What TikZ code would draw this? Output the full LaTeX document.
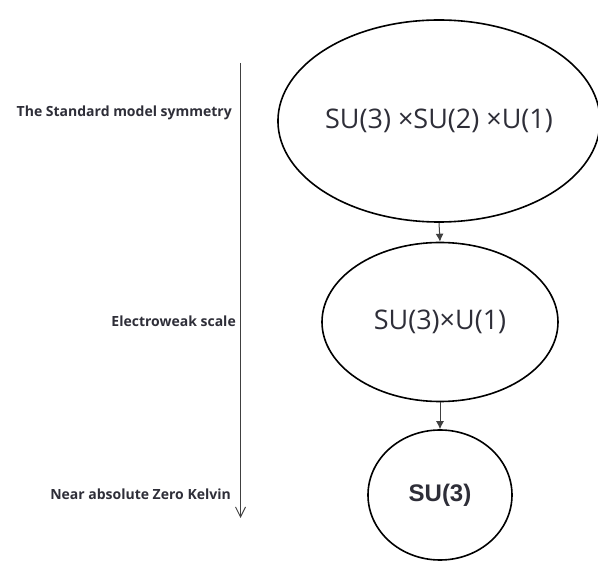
\documentclass[tikz,border=0pt]{standalone}
\usepackage{fontspec}
\setmainfont{Open Sans}
\newfontfamily\arialfont{Liberation Sans}
\usetikzlibrary{arrows.meta,shapes.geometric}
\definecolor{textgray}{HTML}{2E2E38}
\definecolor{arrowgray}{HTML}{404040}

\begin{document}
\begin{tikzpicture}[x=1pt, y=-1pt,
  group/.style={ellipse, draw=black, line width=1.6pt, inner sep=0pt, text=textgray},
  scalelabel/.style={anchor=east, inner sep=0pt, text=textgray, font=\fontsize{14}{16}\selectfont\bfseries},
  conn/.style={arrowgray, line width=1pt, -{Latex[length=8pt, width=8pt]}}]

  \useasboundingbox (0,0) rectangle (598,561);

  \node[group, minimum width=316pt, minimum height=202pt, font=\fontsize{27}{30}\selectfont]
    (smgroup) at (439,121) {SU(3) ×SU(2) ×U(1)};
  \node[group, minimum width=236pt, minimum height=159pt, font=\fontsize{27}{30}\selectfont]
    (ewgroup) at (440,322) {SU(3)×U(1)};
  \node[group, minimum width=144pt, minimum height=130pt, font=\fontsize{24}{26}\arialfont\bfseries]
    (qcdgroup) at (440,495) {SU(3)};

  \draw[conn] (smgroup.south) -- (ewgroup.north);
  \draw[conn] (ewgroup.south) -- (qcdgroup.north);

  \node[scalelabel] (smlabel) at (232,113) {The Standard model symmetry};
  \node[scalelabel] (ewlabel) at (236,321) {Electroweak scale};
  \node[scalelabel] (zerolabel) at (231,494) {Near absolute Zero Kelvin};

  \coordinate (timestart) at (240.5,63);
  \coordinate (timeend) at (240.5,518);
  \draw[arrowgray, line width=1pt, -{Straight Barb[length=10pt, width=10pt]}] (timestart) -- (timeend);

\end{tikzpicture}
\end{document}
